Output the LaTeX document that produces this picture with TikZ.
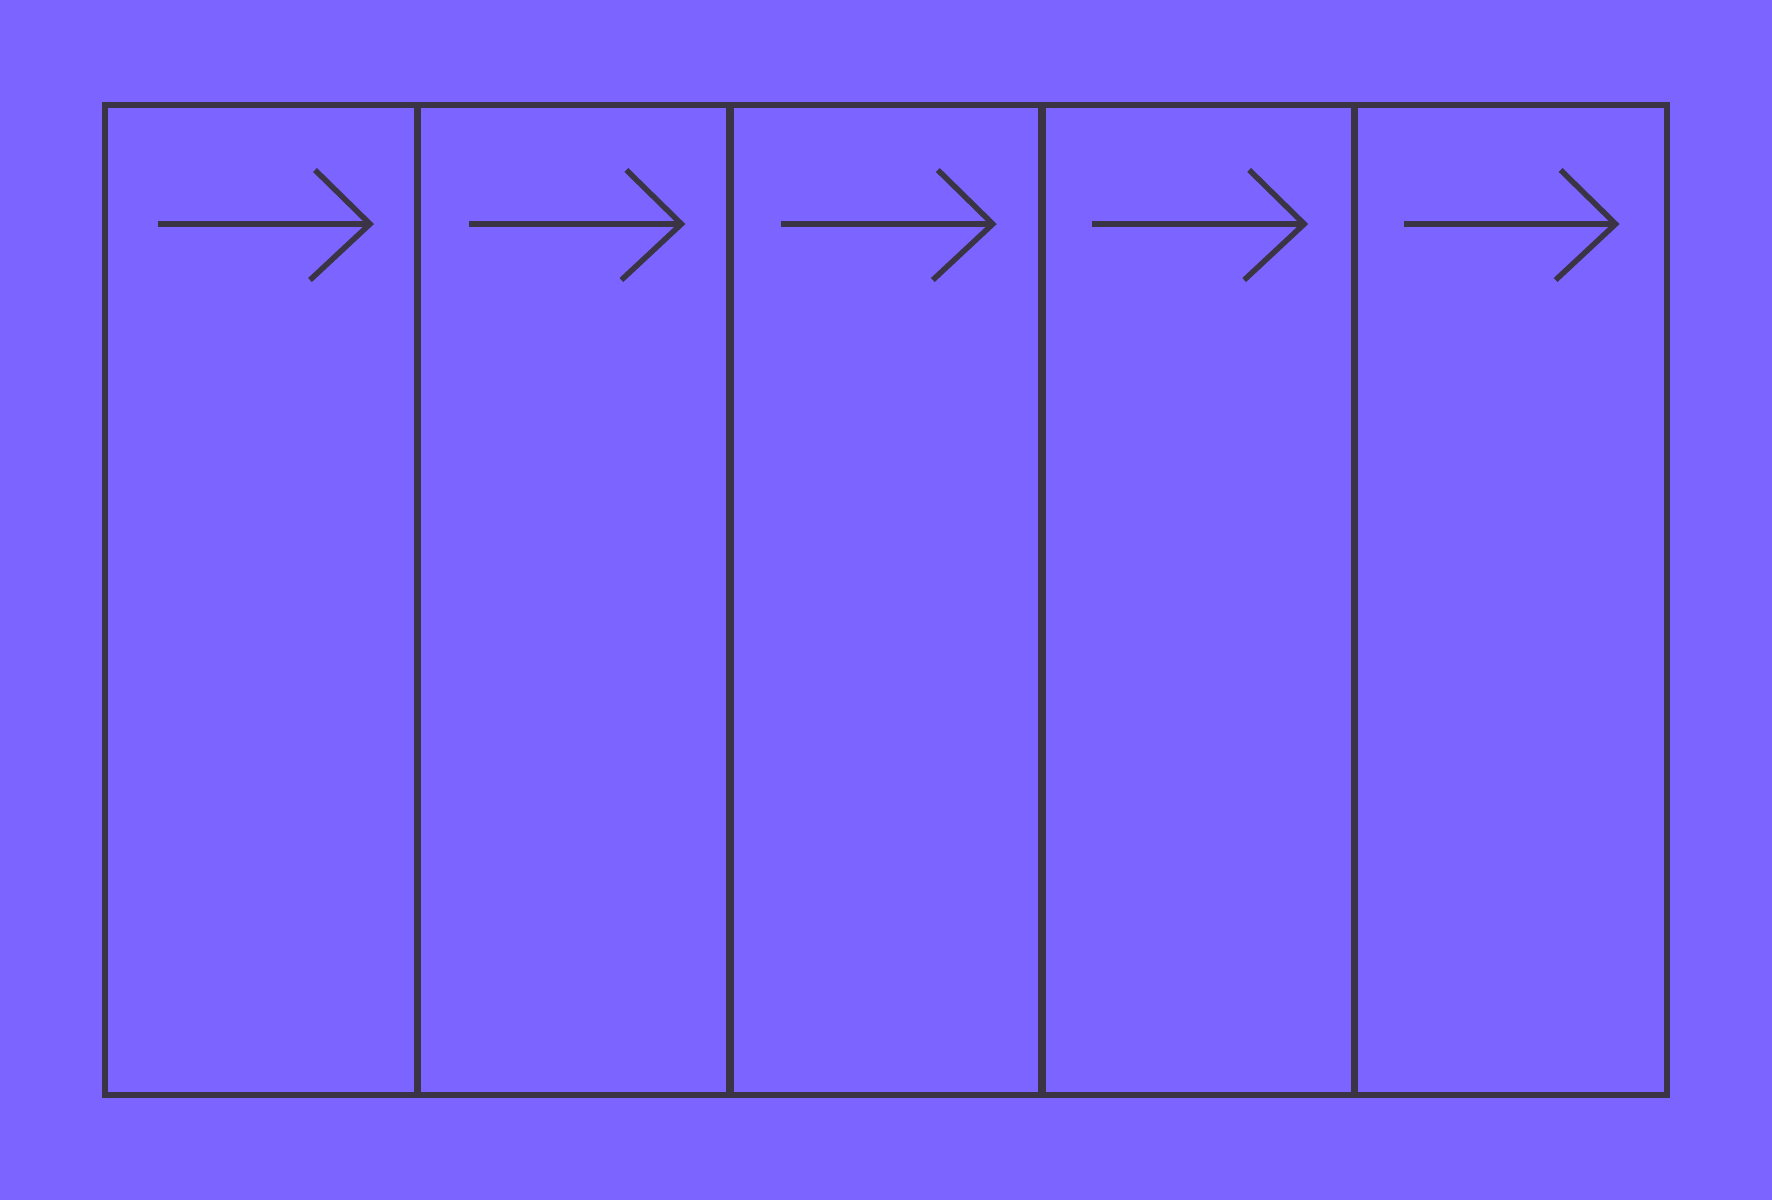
\documentclass[tikz,border=0pt]{standalone}
\definecolor{bgviolet}{HTML}{7B64FF}
\definecolor{inkgray}{HTML}{3A3445}
\begin{document}
\begin{tikzpicture}[x=1pt,y=-1pt,
  frame/.style={draw=inkgray,line width=5.5pt},
  divider/.style={draw=inkgray,line width=7.5pt},
  flowarrow/.style={draw=inkgray,line width=5.5pt}]
\fill[bgviolet] (0,0) rectangle (1772,1200);
\useasboundingbox (0,0) rectangle (1772,1200);
\draw[frame] (105,105) rectangle (1667,1095);
\foreach \i in {1,...,4}{
  \draw[divider] ({105+312.4*\i},105) -- ({105+312.4*\i},1095);
}
\foreach \i in {0,...,4}{
  \pgfmathsetmacro{\cx}{105+311.4*\i}
  \coordinate (tip\i) at ({\cx+265},224);
  \draw[flowarrow] ({\cx+53},224) -- (tip\i);
  \draw[flowarrow,line join=miter] ({\cx+210},170) -- (tip\i) -- ({\cx+205},280);
}
\end{tikzpicture}
\end{document}
